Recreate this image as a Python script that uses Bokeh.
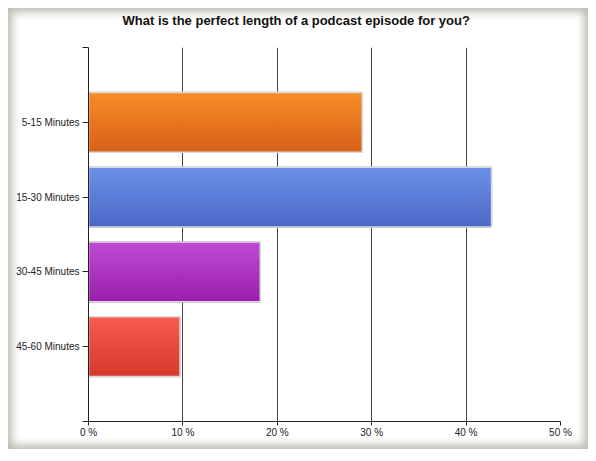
from bokeh.plotting import figure
from bokeh.models import Range1d, FixedTicker, ColumnDataSource
from bokeh.embed import file_html
from bokeh.resources import INLINE

# ---- data ----
categories = ["5-15 Minutes", "15-30 Minutes", "30-45 Minutes", "45-60 Minutes"]
percent = [29.0, 42.7, 18.2, 9.7]
top_colors = ["#f78d25", "#6d90e9", "#bf4dd6", "#f75c4e"]
bottom_colors = ["#d8601a", "#4b69c6", "#9a1dac", "#d5382b"]
x_ticks = [0, 10, 20, 30, 40, 50]
x_tick_labels = ["0 %", "10 %", "20 %", "30 %", "40 %", "50 %"]
title_text = "What is the perfect length of a podcast episode for you?"

BAR_H = 0.8
N_SLICES = 24


def hex2rgb(h):
    h = h.lstrip("#")
    return tuple(int(h[i:i + 2], 16) for i in (0, 2, 4))


def mix(c1, c2, t):
    a, b = hex2rgb(c1), hex2rgb(c2)
    return "#%02x%02x%02x" % tuple(round(a[i] + (b[i] - a[i]) * t) for i in range(3))


p = figure(width=580, height=441, output_backend="svg", toolbar_location=None,
           x_range=Range1d(0, 50), y_range=Range1d(len(categories) + 1, 0),
           min_border_left=80, min_border_right=28, min_border_top=39, min_border_bottom=28,
           border_fill_color=None, background_fill_color="white",
           styles={"margin": "8px", "background-color": "white",
                   "box-shadow": "inset 0 0 8px 4px #bdbab1"})
p.outline_line_color = None

# title
p.title.text = title_text
p.title.align = "left"
p.title.offset = 34
p.title.standoff = 2
p.title.padding = dict(top=0, right=0, bottom=19, left=0)
p.title.text_font = "Liberation Sans"
p.title.text_font_size = "13px"
p.title.text_font_style = "bold"
p.title.text_color = "#111111"

# gradient bars (slices)
xs, ys, hs, ws, cs = [], [], [], [], []
for i, v in enumerate(percent):
    yc = i + 1
    for k in range(N_SLICES):
        t = (k + 0.5) / N_SLICES
        ys.append(yc - BAR_H / 2 + (k + 0.5) * BAR_H / N_SLICES)
        xs.append(v / 2)
        ws.append(v)
        hs.append(BAR_H / N_SLICES)
        cs.append(mix(top_colors[i], bottom_colors[i], t))
p.rect(x=xs, y=ys, width=ws, height=hs, fill_color=cs, line_color=cs, line_width=1)

src = ColumnDataSource(dict(y=list(range(1, len(categories) + 1)), right=percent))
p.hbar(y="y", right="right", left=0, height=BAR_H, source=src,
       fill_color=None, line_color="#d9d9d9", line_width=1.6)

# axes
p.xaxis.ticker = FixedTicker(ticks=x_ticks)
p.xaxis.major_label_overrides = {t: l for t, l in zip(x_ticks, x_tick_labels)}
p.yaxis.ticker = FixedTicker(ticks=list(range(0, len(categories) + 2)))
ylabels = {0: "", len(categories) + 1: ""}
ylabels.update({i + 1: c for i, c in enumerate(categories)})
p.yaxis.major_label_overrides = ylabels

for ax in (p.xaxis[0], p.yaxis[0]):
    ax.axis_line_color = "#222222"
    ax.major_tick_line_color = "#222222"
    ax.major_tick_in = 0
    ax.minor_tick_line_color = None
    ax.major_label_text_font = "Liberation Sans"
    ax.major_label_text_font_size = "10px"
    ax.major_label_text_color = "#222222"
p.yaxis.major_tick_out = 6
p.yaxis.major_label_standoff = 3
p.xaxis.major_tick_out = 4
p.xaxis.major_label_standoff = 1

p.xgrid.ticker = FixedTicker(ticks=x_ticks)
p.xgrid.grid_line_color = "#444444"
p.xgrid.grid_line_width = 1
p.ygrid.grid_line_color = None

open("out.html", "w").write(file_html(p, INLINE))
